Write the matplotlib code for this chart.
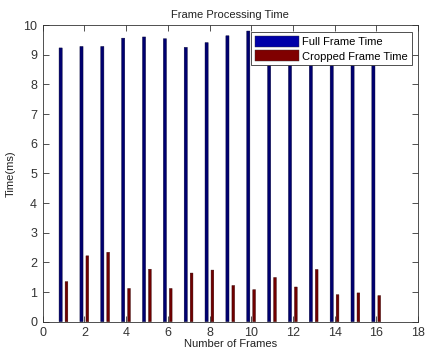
import numpy as np
import matplotlib
matplotlib.use('Agg')
import matplotlib.pyplot as plt

plt.rcParams['font.family'] = ['Liberation Sans', 'DejaVu Sans']

# dados
frames = np.arange(1, 17)
full_time = [9.23, 9.28, 9.28, 9.56, 9.60, 9.54, 9.25, 9.41, 9.64, 9.80,
             9.45, 9.50, 9.35, 9.50, 9.40, 9.45]
cropped_time = [1.35, 2.22, 2.34, 1.12, 1.77, 1.12, 1.64, 1.74, 1.22, 1.08,
                1.49, 1.17, 1.76, 0.91, 0.97, 0.88]

fig = plt.figure(figsize=(4.27, 3.51), dpi=100)
ax = fig.add_axes([0.1, 0.0835, 0.879, 0.845])

off = 0.14
ax.bar(frames - off, full_time, width=0.15, color='#000070', edgecolor='#000030',
       linewidth=0.3, snap=False, label='Full Frame Time')
ax.bar(frames + off, cropped_time, width=0.13, color='#700000', edgecolor='#300000',
       linewidth=0.3, snap=False, label='Cropped Frame Time')

ax.set_xlim(0, 18)
ax.set_ylim(0, 10)
ax.set_xticks(np.arange(0, 19, 2))
ax.set_yticks(np.arange(0, 11, 1))
ax.tick_params(direction='in', top=True, right=True, length=4, width=0.6,
               labelsize=9, colors='#333333', pad=4)
for s in ax.spines.values():
    s.set_linewidth(0.6)
    s.set_color('#333333')

ax.set_title('Frame Processing Time', fontsize=8, color='#222222', pad=5)
ax.set_xlabel('Number of Frames', fontsize=8, color='#222222', labelpad=0)
ax.set_ylabel('Time(ms)', fontsize=8, color='#222222', labelpad=5)

leg = ax.legend(loc='upper right', bbox_to_anchor=(0.99, 0.985), fontsize=8,
                frameon=True, fancybox=False, handlelength=4.0, handleheight=1.15,
                borderpad=0.35, labelspacing=0.3, handletextpad=0.3,
                borderaxespad=0.2)
leg.get_frame().set_edgecolor('#333333')
leg.get_frame().set_linewidth(0.6)
leg.get_frame().set_alpha(1)
for h in leg.legend_handles:
    h.set_edgecolor('#333333')
leg.legend_handles[0].set_facecolor('#0000a8')
leg.legend_handles[1].set_facecolor('#800000')

fig.savefig('out.png', dpi=100)
